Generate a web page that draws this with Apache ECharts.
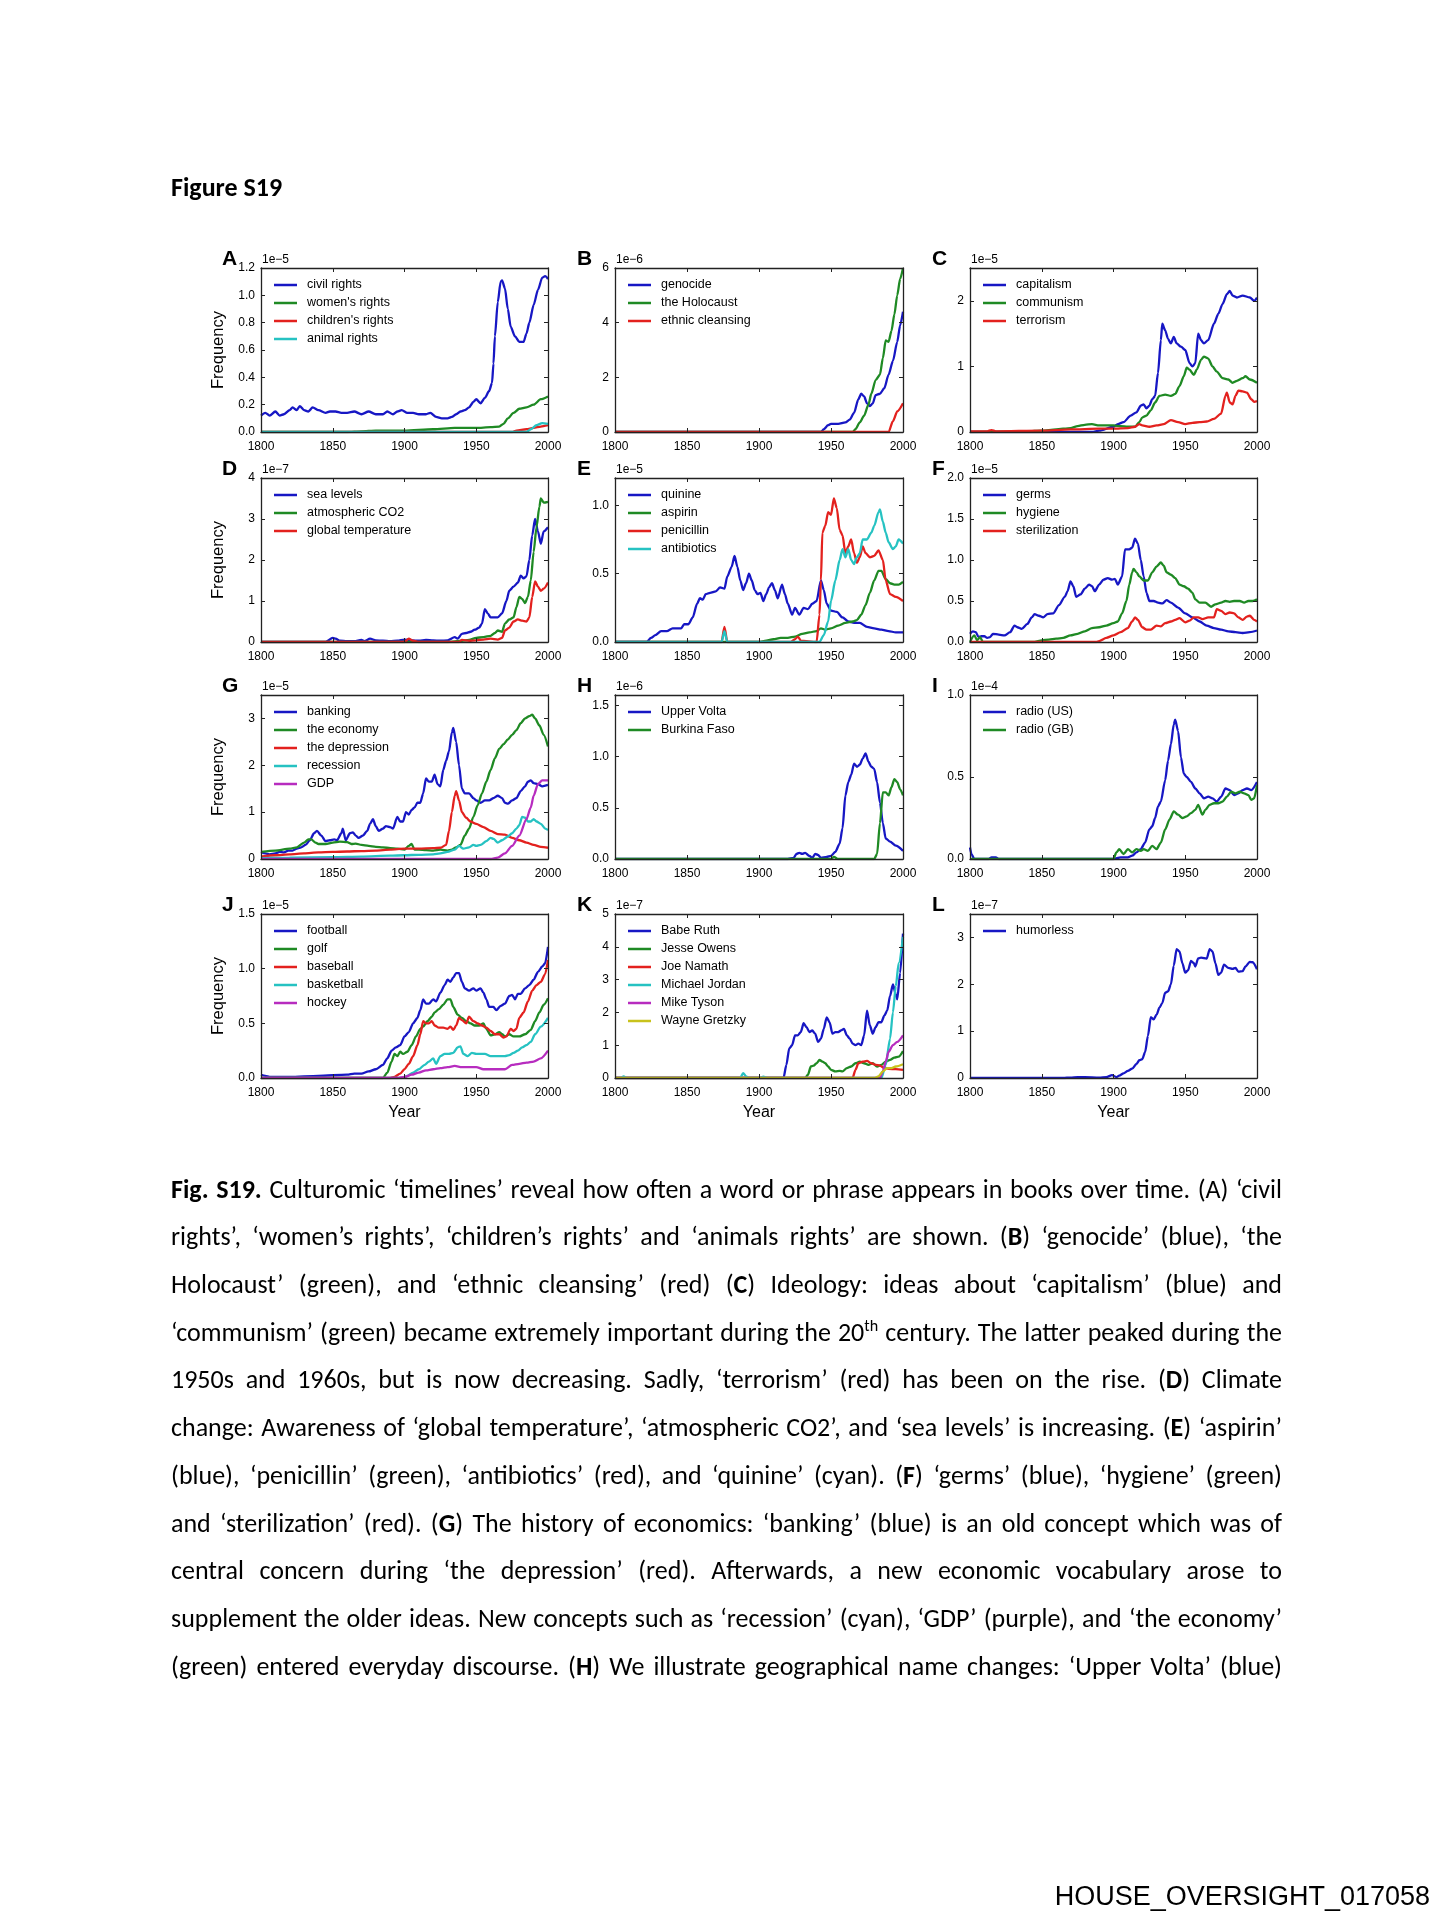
<!DOCTYPE html>
<html><head><meta charset="utf-8">
<script src="https://cdn.jsdelivr.net/npm/echarts@6/dist/echarts.min.js"></script>
<style>
html,body{margin:0;padding:0;background:#fff;}
#page{position:relative;width:1453px;height:1920px;overflow:hidden;background:#fff;}
#chart{position:absolute;left:0;top:0;width:1453px;height:1920px;}
.txt{position:absolute;font-family:Carlito,Lato,"Open Sans",sans-serif;color:#000;white-space:nowrap;}
.cap{left:171px;width:1111px;height:30px;line-height:30px;font-size:26px;text-align:justify;text-align-last:justify;}
#heading{left:171px;top:172px;font-size:24px;font-weight:bold;line-height:30px;}
#footer{right:23px;top:1879px;font-family:"Liberation Sans",Arial,sans-serif;font-size:27px;line-height:34px;}
sup{font-size:0.62em;line-height:0;vertical-align:0.6em;}
</style></head>
<body><div id="page"><div id="chart"></div>
<div id="heading" class="txt">Figure S19</div>
<div id="caption"></div>
<div id="footer" class="txt">HOUSE_OVERSIGHT_017058</div>
</div>
<script>
// ---------- DATA (values in units of the panel's axis multiplier) ----------
const xTicks = [1800, 1850, 1900, 1950, 2000];

// A (1e-5)
const A_civilRights = [[1800,0.12],[1803,0.14],[1806,0.12],[1810,0.15],[1813,0.12],[1816,0.13],[1820,0.16],[1822,0.18],[1825,0.16],[1827,0.19],[1830,0.16],[1833,0.15],[1836,0.18],[1840,0.16],[1845,0.14],[1848,0.15],[1852,0.15],[1856,0.14],[1860,0.14],[1865,0.15],[1870,0.13],[1875,0.15],[1880,0.13],[1885,0.13],[1888,0.15],[1892,0.13],[1895,0.15],[1898,0.16],[1902,0.14],[1906,0.14],[1910,0.13],[1915,0.13],[1918,0.14],[1922,0.11],[1926,0.10],[1930,0.10],[1933,0.11],[1936,0.13],[1939,0.15],[1942,0.16],[1945,0.18],[1948,0.22],[1950,0.24],[1953,0.21],[1956,0.25],[1959,0.30],[1961,0.36],[1962,0.50],[1963,0.70],[1965,0.95],[1967,1.10],[1968,1.11],[1970,1.05],[1972,0.90],[1974,0.77],[1977,0.70],[1980,0.66],[1983,0.66],[1985,0.72],[1987,0.80],[1990,0.93],[1993,1.04],[1996,1.13],[1998,1.14],[2000,1.12]];
const A_womensRights = [[1800,0],[1860,0],[1870,0.005],[1880,0.01],[1900,0.01],[1920,0.02],[1935,0.03],[1950,0.03],[1960,0.035],[1966,0.04],[1969,0.06],[1972,0.10],[1976,0.14],[1980,0.17],[1985,0.18],[1990,0.20],[1995,0.24],[2000,0.26]];
const A_childrensRights = [[1800,0],[1975,0],[1978,0.01],[1985,0.02],[1990,0.03],[1995,0.04],[2000,0.05]];
const A_animalRights = [[1800,0],[1985,0],[1988,0.02],[1992,0.05],[1996,0.065],[2000,0.06]];

// B (1e-6)
const B_genocide = [[1800,0],[1943,0],[1945,0.1],[1948,0.25],[1950,0.3],[1955,0.3],[1960,0.35],[1963,0.45],[1966,0.7],[1969,1.2],[1971,1.4],[1973,1.3],[1975,1.05],[1977,0.95],[1979,1.05],[1981,1.35],[1984,1.4],[1987,1.6],[1990,2.1],[1993,2.6],[1996,3.3],[1998,3.9],[2000,4.4]];
const B_holocaust = [[1800,0],[1965,0],[1967,0.1],[1970,0.35],[1973,0.6],[1976,1.0],[1978,1.4],[1981,1.9],[1984,2.1],[1986,2.7],[1988,3.35],[1990,3.3],[1992,3.7],[1994,4.3],[1996,5.0],[1998,5.6],[2000,6.0]];
const B_ethnicCleansing = [[1800,0],[1990,0],[1993,0.4],[1996,0.75],[2000,1.05]];

// C (1e-5)
const C_capitalism = [[1800,0],[1885,0],[1890,0.02],[1900,0.08],[1903,0.12],[1907,0.15],[1912,0.25],[1916,0.3],[1919,0.4],[1921,0.42],[1923,0.36],[1925,0.4],[1927,0.5],[1929,0.55],[1931,0.9],[1933,1.4],[1934,1.65],[1936,1.55],[1938,1.42],[1940,1.35],[1942,1.45],[1944,1.35],[1947,1.3],[1950,1.25],[1953,1.05],[1955,1.0],[1957,1.05],[1959,1.5],[1961,1.4],[1963,1.35],[1966,1.4],[1970,1.65],[1973,1.8],[1976,1.95],[1979,2.1],[1981,2.15],[1983,2.08],[1986,2.05],[1990,2.08],[1995,2.05],[1998,2.0],[2000,2.05]];
const C_communism = [[1800,0],[1840,0.01],[1850,0.02],[1860,0.04],[1870,0.06],[1875,0.09],[1880,0.11],[1885,0.12],[1890,0.1],[1895,0.1],[1900,0.1],[1905,0.09],[1910,0.08],[1915,0.08],[1918,0.15],[1920,0.22],[1923,0.25],[1926,0.33],[1929,0.45],[1932,0.55],[1936,0.57],[1940,0.55],[1943,0.58],[1946,0.7],[1949,0.85],[1951,0.98],[1953,0.95],[1956,0.87],[1958,0.95],[1961,1.1],[1963,1.15],[1966,1.12],[1969,1.0],[1972,0.92],[1976,0.82],[1980,0.8],[1983,0.75],[1986,0.78],[1990,0.82],[1992,0.85],[1995,0.8],[2000,0.75]];
const C_terrorism = [[1800,0.01],[1812,0.01],[1815,0.03],[1818,0.01],[1850,0.02],[1870,0.04],[1890,0.05],[1900,0.05],[1910,0.06],[1915,0.08],[1918,0.12],[1920,0.1],[1925,0.08],[1930,0.1],[1935,0.12],[1940,0.18],[1945,0.15],[1950,0.12],[1955,0.14],[1960,0.15],[1965,0.16],[1970,0.2],[1975,0.28],[1978,0.55],[1979,0.6],[1981,0.45],[1983,0.42],[1985,0.55],[1987,0.63],[1990,0.62],[1993,0.6],[1996,0.5],[1998,0.46],[2000,0.47]];

// D (1e-7)
const D_seaLevels = [[1800,0],[1845,0],[1850,0.1],[1852,0.08],[1855,0.03],[1860,0.02],[1865,0.02],[1870,0.05],[1872,0.02],[1876,0.08],[1880,0.04],[1885,0.03],[1890,0.02],[1895,0.03],[1900,0.06],[1905,0.04],[1910,0.03],[1915,0.05],[1920,0.04],[1925,0.03],[1930,0.04],[1935,0.12],[1937,0.08],[1940,0.2],[1943,0.22],[1946,0.25],[1949,0.3],[1952,0.35],[1954,0.45],[1956,0.8],[1958,0.7],[1960,0.6],[1965,0.6],[1968,0.7],[1971,1.0],[1973,1.25],[1976,1.35],[1979,1.45],[1981,1.62],[1983,1.55],[1985,1.6],[1987,2.0],[1989,2.6],[1991,3.0],[1993,2.7],[1995,2.4],[1997,2.7],[2000,2.8]];
const D_atmosphericCO2 = [[1800,0],[1930,0],[1940,0.03],[1945,0.05],[1950,0.1],[1955,0.12],[1960,0.15],[1963,0.22],[1965,0.28],[1968,0.25],[1970,0.45],[1973,0.55],[1976,0.6],[1978,0.85],[1980,1.1],[1982,1.05],[1984,0.95],[1986,1.1],[1988,1.5],[1990,2.2],[1992,2.8],[1994,3.3],[1995,3.5],[1997,3.4],[2000,3.42]];
const D_globalTemperature = [[1800,0],[1900,0],[1903,0.08],[1906,0.03],[1910,0],[1938,0],[1940,0.05],[1945,0.03],[1950,0.04],[1955,0.06],[1960,0.08],[1965,0.06],[1968,0.1],[1970,0.28],[1973,0.35],[1976,0.5],[1979,0.55],[1982,0.52],[1985,0.5],[1987,0.6],[1989,1.1],[1991,1.48],[1993,1.35],[1995,1.25],[1997,1.3],[2000,1.45]];

// E (1e-5)
const E_quinine = [[1800,0],[1822,0],[1825,0.03],[1828,0.05],[1832,0.08],[1836,0.08],[1840,0.1],[1843,0.1],[1846,0.1],[1848,0.13],[1851,0.13],[1854,0.18],[1857,0.28],[1859,0.32],[1861,0.31],[1863,0.35],[1866,0.36],[1870,0.37],[1873,0.4],[1876,0.39],[1878,0.48],[1881,0.55],[1883,0.63],[1885,0.55],[1887,0.45],[1889,0.38],[1891,0.43],[1893,0.5],[1895,0.45],[1897,0.38],[1899,0.35],[1901,0.36],[1903,0.3],[1905,0.35],[1907,0.4],[1909,0.43],[1911,0.38],[1913,0.32],[1916,0.42],[1918,0.35],[1920,0.28],[1923,0.2],[1925,0.25],[1928,0.2],[1931,0.25],[1934,0.24],[1937,0.28],[1940,0.3],[1943,0.45],[1945,0.38],[1947,0.28],[1950,0.23],[1954,0.22],[1958,0.18],[1962,0.15],[1966,0.14],[1970,0.14],[1975,0.11],[1980,0.1],[1985,0.09],[1990,0.08],[1995,0.07],[2000,0.07]];
const E_aspirin = [[1800,0],[1900,0],[1905,0.01],[1910,0.02],[1915,0.03],[1920,0.03],[1925,0.04],[1930,0.06],[1935,0.07],[1940,0.08],[1943,0.1],[1946,0.09],[1950,0.1],[1955,0.12],[1960,0.14],[1965,0.15],[1968,0.16],[1971,0.2],[1974,0.27],[1977,0.36],[1980,0.45],[1983,0.52],[1985,0.52],[1988,0.46],[1991,0.43],[1994,0.42],[1997,0.42],[2000,0.44]];
const E_penicillin = [[1800,0],[1874,0],[1876,0.11],[1878,0],[1922,0],[1925,0.02],[1927,0.04],[1929,0.01],[1940,0],[1942,0.2],[1943,0.45],[1944,0.8],[1946,0.85],[1948,0.95],[1950,0.93],[1952,1.05],[1954,0.98],[1956,0.82],[1958,0.78],[1960,0.65],[1962,0.7],[1964,0.75],[1966,0.65],[1968,0.58],[1970,0.62],[1972,0.7],[1974,0.65],[1977,0.62],[1980,0.63],[1983,0.67],[1986,0.6],[1988,0.45],[1991,0.35],[1995,0.33],[2000,0.3]];
const E_antibiotics = [[1800,0],[1874,0],[1876,0.08],[1878,0],[1942,0],[1945,0.05],[1948,0.15],[1950,0.3],[1953,0.45],[1956,0.6],[1958,0.68],[1960,0.62],[1962,0.68],[1964,0.6],[1966,0.57],[1968,0.62],[1970,0.65],[1972,0.75],[1975,0.75],[1978,0.8],[1980,0.85],[1983,0.95],[1984,0.97],[1986,0.88],[1988,0.8],[1990,0.73],[1993,0.68],[1995,0.7],[1997,0.75],[2000,0.72]];

// F (1e-5)
const F_germs = [[1800,0.1],[1802,0.13],[1804,0.12],[1806,0.06],[1808,0.07],[1810,0.07],[1812,0.05],[1814,0.06],[1816,0.1],[1820,0.09],[1824,0.08],[1828,0.12],[1831,0.2],[1833,0.18],[1836,0.16],[1840,0.22],[1843,0.3],[1845,0.34],[1848,0.32],[1851,0.3],[1854,0.34],[1858,0.35],[1862,0.45],[1866,0.55],[1868,0.62],[1870,0.74],[1872,0.68],[1874,0.55],[1877,0.58],[1880,0.65],[1883,0.7],[1885,0.68],[1887,0.62],[1890,0.7],[1893,0.76],[1896,0.78],[1899,0.76],[1901,0.77],[1903,0.7],[1906,0.8],[1908,1.13],[1911,1.13],[1913,1.15],[1915,1.26],[1917,1.2],[1919,1.0],[1921,0.8],[1923,0.6],[1925,0.5],[1928,0.5],[1931,0.48],[1934,0.47],[1937,0.51],[1940,0.48],[1945,0.42],[1950,0.35],[1955,0.3],[1960,0.25],[1965,0.2],[1970,0.17],[1975,0.15],[1980,0.13],[1985,0.12],[1990,0.11],[1995,0.12],[2000,0.14]];
const F_hygiene = [[1800,0],[1803,0.08],[1805,0.02],[1807,0.06],[1809,0],[1845,0],[1850,0.02],[1855,0.03],[1860,0.04],[1865,0.05],[1870,0.08],[1875,0.1],[1880,0.13],[1885,0.17],[1890,0.18],[1895,0.2],[1900,0.23],[1903,0.25],[1906,0.35],[1909,0.5],[1911,0.7],[1913,0.85],[1914,0.89],[1916,0.85],[1918,0.8],[1921,0.75],[1924,0.75],[1927,0.85],[1930,0.92],[1933,0.97],[1935,0.93],[1937,0.85],[1940,0.82],[1943,0.78],[1946,0.7],[1949,0.68],[1952,0.65],[1955,0.6],[1957,0.52],[1960,0.48],[1964,0.48],[1968,0.43],[1971,0.46],[1975,0.48],[1978,0.5],[1981,0.49],[1984,0.5],[1988,0.5],[1991,0.48],[1994,0.5],[1997,0.5],[2000,0.52]];
const F_sterilization = [[1800,0],[1888,0],[1890,0.01],[1895,0.05],[1900,0.08],[1905,0.12],[1910,0.17],[1913,0.25],[1915,0.3],[1917,0.27],[1920,0.18],[1923,0.15],[1926,0.15],[1930,0.2],[1933,0.19],[1936,0.23],[1940,0.25],[1943,0.27],[1946,0.29],[1950,0.24],[1953,0.26],[1956,0.3],[1959,0.3],[1962,0.28],[1966,0.3],[1970,0.3],[1972,0.4],[1975,0.38],[1978,0.34],[1981,0.36],[1984,0.35],[1987,0.3],[1990,0.27],[1993,0.31],[1995,0.32],[1998,0.27],[2000,0.25]];

// G (1e-5)
const G_banking = [[1800,0.15],[1803,0.12],[1806,0.1],[1810,0.12],[1813,0.15],[1816,0.14],[1819,0.18],[1822,0.18],[1825,0.22],[1828,0.25],[1831,0.3],[1834,0.4],[1837,0.55],[1839,0.6],[1842,0.5],[1845,0.38],[1848,0.4],[1851,0.42],[1853,0.4],[1856,0.55],[1857,0.65],[1859,0.4],[1862,0.55],[1864,0.57],[1866,0.5],[1868,0.45],[1871,0.5],[1874,0.6],[1876,0.75],[1878,0.85],[1880,0.7],[1882,0.6],[1885,0.65],[1887,0.7],[1890,0.68],[1892,0.65],[1895,0.9],[1897,0.8],[1899,0.8],[1901,1.0],[1903,0.95],[1905,1.05],[1907,1.1],[1909,1.2],[1911,1.2],[1913,1.4],[1915,1.72],[1917,1.65],[1919,1.65],[1921,1.8],[1923,1.6],[1925,1.55],[1927,1.9],[1929,2.1],[1931,2.3],[1933,2.7],[1934,2.8],[1936,2.5],[1938,2.0],[1940,1.5],[1942,1.4],[1945,1.4],[1948,1.3],[1950,1.25],[1953,1.2],[1956,1.25],[1959,1.25],[1962,1.3],[1965,1.35],[1968,1.3],[1970,1.2],[1972,1.18],[1975,1.25],[1978,1.3],[1981,1.45],[1984,1.55],[1986,1.65],[1988,1.68],[1990,1.62],[1993,1.6],[1996,1.55],[2000,1.58]];
const G_theEconomy = [[1800,0.15],[1810,0.18],[1820,0.22],[1825,0.25],[1830,0.35],[1833,0.42],[1835,0.42],[1838,0.35],[1840,0.32],[1845,0.32],[1850,0.35],[1855,0.37],[1860,0.36],[1863,0.32],[1866,0.33],[1870,0.3],[1875,0.28],[1880,0.26],[1885,0.25],[1890,0.23],[1895,0.22],[1900,0.2],[1903,0.28],[1905,0.32],[1907,0.2],[1910,0.2],[1915,0.19],[1920,0.18],[1925,0.2],[1930,0.18],[1933,0.2],[1936,0.25],[1939,0.3],[1942,0.5],[1945,0.65],[1948,0.9],[1951,1.15],[1954,1.4],[1957,1.65],[1960,1.9],[1963,2.15],[1966,2.35],[1969,2.45],[1972,2.55],[1975,2.65],[1978,2.75],[1981,2.9],[1984,3.0],[1987,3.05],[1989,3.08],[1991,3.0],[1994,2.85],[1997,2.65],[2000,2.4]];
const G_theDepression = [[1800,0.05],[1810,0.08],[1820,0.1],[1830,0.12],[1840,0.14],[1850,0.15],[1860,0.16],[1870,0.17],[1880,0.18],[1890,0.2],[1900,0.22],[1910,0.22],[1920,0.23],[1925,0.24],[1929,0.3],[1931,0.6],[1933,1.0],[1935,1.35],[1936,1.45],[1938,1.25],[1940,1.0],[1943,0.88],[1946,0.8],[1950,0.75],[1955,0.68],[1960,0.6],[1965,0.53],[1970,0.52],[1975,0.45],[1980,0.4],[1985,0.35],[1990,0.3],[1995,0.26],[2000,0.24]];
const G_recession = [[1800,0.02],[1820,0.03],[1850,0.04],[1870,0.05],[1890,0.07],[1900,0.08],[1910,0.09],[1920,0.1],[1925,0.12],[1930,0.15],[1935,0.2],[1938,0.28],[1941,0.22],[1945,0.25],[1948,0.3],[1950,0.28],[1953,0.3],[1957,0.38],[1960,0.45],[1962,0.43],[1965,0.35],[1968,0.4],[1972,0.48],[1975,0.55],[1978,0.65],[1980,0.72],[1982,0.9],[1984,0.88],[1986,0.8],[1988,0.8],[1990,0.85],[1992,0.8],[1995,0.75],[1998,0.65],[2000,0.62]];
const G_GDP = [[1800,0],[1960,0],[1965,0.03],[1970,0.12],[1975,0.28],[1980,0.5],[1985,0.85],[1988,1.1],[1990,1.35],[1993,1.6],[1996,1.68],[2000,1.68]];

// H (1e-6)
const H_upperVolta = [[1800,0],[1920,0],[1924,0.01],[1926,0.05],[1928,0.06],[1930,0.05],[1932,0.06],[1935,0.03],[1937,0.01],[1939,0.05],[1941,0.04],[1943,0.01],[1947,0.02],[1950,0.03],[1953,0.07],[1956,0.15],[1958,0.3],[1960,0.62],[1962,0.75],[1964,0.82],[1966,0.93],[1968,0.9],[1970,0.92],[1972,0.98],[1974,1.03],[1976,0.95],[1978,0.9],[1980,0.88],[1982,0.75],[1984,0.55],[1986,0.35],[1988,0.2],[1991,0.17],[1995,0.13],[2000,0.08]];
const H_burkinaFaso = [[1800,0],[1950,0],[1952,0.02],[1955,0],[1980,0],[1982,0.05],[1984,0.35],[1986,0.65],[1988,0.65],[1990,0.62],[1992,0.7],[1994,0.78],[1996,0.75],[1998,0.68],[2000,0.62]];

// I (1e-4)
const I_radioUS = [[1800,0.07],[1801,0.03],[1803,0],[1813,0],[1815,0.01],[1818,0.01],[1820,0],[1900,0],[1905,0.01],[1910,0.01],[1913,0.02],[1916,0.04],[1919,0.06],[1922,0.1],[1925,0.18],[1927,0.2],[1929,0.25],[1931,0.32],[1933,0.35],[1936,0.48],[1938,0.6],[1940,0.7],[1942,0.82],[1943,0.85],[1945,0.78],[1947,0.62],[1949,0.52],[1951,0.5],[1954,0.47],[1957,0.43],[1960,0.4],[1963,0.37],[1966,0.38],[1969,0.37],[1972,0.35],[1975,0.38],[1978,0.43],[1981,0.42],[1984,0.39],[1987,0.4],[1990,0.42],[1993,0.43],[1996,0.42],[2000,0.47]];
const I_radioGB = [[1800,0],[1900,0],[1902,0.04],[1904,0.06],[1907,0.03],[1910,0.06],[1913,0.04],[1916,0.06],[1919,0.05],[1921,0.06],[1924,0.05],[1927,0.08],[1930,0.06],[1933,0.1],[1936,0.18],[1939,0.24],[1942,0.29],[1945,0.27],[1948,0.25],[1951,0.26],[1954,0.28],[1957,0.3],[1959,0.33],[1962,0.27],[1964,0.3],[1967,0.33],[1970,0.34],[1973,0.34],[1976,0.35],[1979,0.38],[1982,0.41],[1985,0.4],[1988,0.41],[1991,0.4],[1994,0.39],[1996,0.36],[1998,0.37],[2000,0.45]];

// J (1e-5)
const J_football = [[1800,0.03],[1803,0.02],[1806,0.01],[1820,0.01],[1840,0.02],[1860,0.03],[1865,0.04],[1870,0.04],[1875,0.06],[1880,0.08],[1885,0.12],[1888,0.18],[1891,0.25],[1894,0.28],[1897,0.3],[1900,0.38],[1903,0.42],[1906,0.5],[1909,0.55],[1911,0.62],[1913,0.72],[1915,0.68],[1917,0.68],[1920,0.72],[1922,0.7],[1925,0.78],[1928,0.85],[1930,0.9],[1932,0.88],[1934,0.92],[1936,0.96],[1938,0.96],[1940,0.88],[1942,0.82],[1945,0.8],[1948,0.82],[1950,0.8],[1953,0.82],[1955,0.78],[1957,0.72],[1959,0.65],[1962,0.65],[1964,0.62],[1967,0.66],[1970,0.68],[1973,0.75],[1975,0.76],[1977,0.72],[1979,0.77],[1981,0.77],[1984,0.82],[1987,0.85],[1990,0.9],[1993,0.97],[1996,1.02],[1998,1.05],[2000,1.2]];
const J_golf = [[1800,0],[1885,0],[1888,0.05],[1891,0.15],[1893,0.22],[1895,0.2],[1897,0.24],[1899,0.22],[1902,0.24],[1905,0.3],[1908,0.38],[1911,0.45],[1913,0.47],[1916,0.52],[1919,0.56],[1921,0.6],[1924,0.63],[1927,0.67],[1930,0.72],[1932,0.72],[1934,0.65],[1937,0.58],[1940,0.55],[1943,0.52],[1946,0.5],[1949,0.48],[1952,0.48],[1955,0.5],[1957,0.45],[1960,0.39],[1963,0.4],[1966,0.42],[1968,0.4],[1970,0.38],[1973,0.4],[1976,0.38],[1980,0.38],[1984,0.4],[1988,0.44],[1991,0.52],[1994,0.6],[1997,0.67],[2000,0.73]];
const J_baseball = [[1800,0],[1890,0],[1893,0.01],[1897,0.04],[1900,0.08],[1903,0.13],[1906,0.2],[1909,0.3],[1911,0.4],[1913,0.52],[1915,0.5],[1917,0.5],[1919,0.52],[1921,0.48],[1924,0.46],[1927,0.46],[1930,0.45],[1932,0.47],[1934,0.44],[1936,0.48],[1938,0.55],[1940,0.53],[1943,0.5],[1945,0.56],[1948,0.52],[1951,0.5],[1954,0.48],[1957,0.46],[1960,0.43],[1963,0.4],[1966,0.4],[1969,0.37],[1971,0.38],[1974,0.45],[1976,0.43],[1978,0.45],[1980,0.55],[1983,0.6],[1986,0.7],[1989,0.8],[1992,0.85],[1995,0.88],[1998,0.95],[2000,1.08]];
const J_basketball = [[1800,0],[1898,0],[1902,0.02],[1906,0.05],[1910,0.08],[1914,0.12],[1917,0.15],[1920,0.18],[1922,0.13],[1925,0.2],[1928,0.22],[1931,0.22],[1934,0.23],[1937,0.28],[1939,0.29],[1941,0.22],[1944,0.2],[1947,0.23],[1950,0.22],[1953,0.22],[1956,0.22],[1960,0.2],[1965,0.2],[1970,0.2],[1973,0.21],[1976,0.23],[1979,0.25],[1982,0.28],[1985,0.3],[1988,0.33],[1991,0.4],[1995,0.47],[2000,0.55]];
const J_hockey = [[1800,0],[1895,0],[1900,0.01],[1905,0.03],[1910,0.05],[1915,0.07],[1920,0.08],[1925,0.09],[1930,0.1],[1935,0.11],[1940,0.1],[1945,0.1],[1950,0.1],[1955,0.08],[1960,0.08],[1965,0.08],[1970,0.08],[1975,0.12],[1980,0.13],[1985,0.14],[1990,0.15],[1995,0.18],[2000,0.25]];

// K (1e-7)
const K_babeRuth = [[1800,0],[1917,0],[1919,0.4],[1921,0.9],[1923,1.0],[1925,1.3],[1927,1.3],[1929,1.4],[1931,1.67],[1933,1.55],[1935,1.4],[1937,1.45],[1939,1.35],[1941,1.1],[1943,1.2],[1945,1.5],[1947,1.85],[1949,1.7],[1951,1.35],[1953,1.4],[1955,1.4],[1957,1.45],[1959,1.5],[1961,1.3],[1963,1.2],[1965,1.05],[1967,1.0],[1969,1.05],[1971,1.0],[1973,1.3],[1975,2.05],[1977,1.6],[1979,1.35],[1981,1.55],[1983,1.7],[1985,1.7],[1987,1.9],[1989,2.05],[1991,2.5],[1993,2.85],[1995,2.55],[1996,2.4],[1998,3.2],[2000,4.4]];
const K_jesseOwens = [[1800,0],[1932,0],[1934,0.1],[1936,0.35],[1938,0.38],[1940,0.45],[1942,0.55],[1944,0.5],[1946,0.45],[1948,0.35],[1950,0.25],[1953,0.2],[1956,0.22],[1958,0.2],[1961,0.3],[1964,0.35],[1967,0.45],[1970,0.5],[1973,0.45],[1976,0.4],[1979,0.45],[1982,0.35],[1985,0.4],[1988,0.5],[1991,0.55],[1994,0.62],[1997,0.65],[2000,0.82]];
const K_joeNamath = [[1800,0],[1965,0],[1967,0.25],[1969,0.45],[1972,0.5],[1975,0.52],[1978,0.45],[1981,0.4],[1984,0.38],[1987,0.3],[1990,0.28],[1995,0.27],[2000,0.25]];
const K_michaelJordan = [[1800,0],[1804,0],[1806,0.05],[1808,0],[1887,0],[1889,0.15],[1891,0.05],[1893,0],[1901,0],[1903,0.04],[1906,0],[1985,0],[1988,0.4],[1991,1.2],[1993,2.0],[1995,2.8],[1997,3.5],[2000,4.3]];
const K_mikeTyson = [[1800,0],[1984,0],[1986,0.2],[1988,0.5],[1990,0.8],[1993,1.0],[1996,1.1],[2000,1.3]];
const K_wayneGretzky = [[1800,0],[1980,0],[1983,0.05],[1986,0.2],[1989,0.3],[1992,0.3],[1995,0.35],[2000,0.42]];

// L (1e-7)
const L_humorless = [[1800,0],[1865,0],[1870,0.01],[1875,0.02],[1880,0.02],[1890,0.01],[1895,0.02],[1899,0.06],[1902,0.02],[1904,0.05],[1907,0.1],[1910,0.15],[1913,0.2],[1916,0.3],[1918,0.38],[1920,0.4],[1922,0.55],[1924,0.9],[1926,1.3],[1928,1.25],[1930,1.35],[1932,1.5],[1934,1.6],[1936,1.82],[1938,1.85],[1940,2.0],[1942,2.4],[1944,2.75],[1946,2.7],[1948,2.45],[1950,2.25],[1952,2.3],[1954,2.5],[1956,2.45],[1957,2.38],[1959,2.55],[1961,2.57],[1965,2.55],[1967,2.75],[1969,2.7],[1971,2.45],[1973,2.2],[1975,2.25],[1977,2.42],[1980,2.35],[1983,2.33],[1985,2.35],[1987,2.27],[1990,2.28],[1992,2.38],[1995,2.48],[1997,2.47],[2000,2.32]];

// ---------- PANEL CONFIG ----------
const COL = {b:'#1717c4', g:'#1f8a24', r:'#e3211e', c:'#26c2c2', m:'#b72cbf', y:'#c8c21c'};
const panels = [
 {id:'A', exp:'1e\u22125', ymax:1.2, step:0.2, dec:1, s:[['civil rights',A_civilRights,'b'],["women's rights",A_womensRights,'g'],["children's rights",A_childrensRights,'r'],['animal rights',A_animalRights,'c']]},
 {id:'B', exp:'1e\u22126', ymax:6, step:2, dec:0, s:[['genocide',B_genocide,'b'],['the Holocaust',B_holocaust,'g'],['ethnic cleansing',B_ethnicCleansing,'r']]},
 {id:'C', exp:'1e\u22125', ymax:2.5, step:1, dec:0, s:[['capitalism',C_capitalism,'b'],['communism',C_communism,'g'],['terrorism',C_terrorism,'r']]},
 {id:'D', exp:'1e\u22127', ymax:4, step:1, dec:0, s:[['sea levels',D_seaLevels,'b'],['atmospheric CO2',D_atmosphericCO2,'g'],['global temperature',D_globalTemperature,'r']]},
 {id:'E', exp:'1e\u22125', ymax:1.2, step:0.5, dec:1, s:[['quinine',E_quinine,'b'],['aspirin',E_aspirin,'g'],['penicillin',E_penicillin,'r'],['antibiotics',E_antibiotics,'c']]},
 {id:'F', exp:'1e\u22125', ymax:2.0, step:0.5, dec:1, s:[['germs',F_germs,'b'],['hygiene',F_hygiene,'g'],['sterilization',F_sterilization,'r']]},
 {id:'G', exp:'1e\u22125', ymax:3.5, step:1, dec:0, s:[['banking',G_banking,'b'],['the economy',G_theEconomy,'g'],['the depression',G_theDepression,'r'],['recession',G_recession,'c'],['GDP',G_GDP,'m']]},
 {id:'H', exp:'1e\u22126', ymax:1.6, step:0.5, dec:1, s:[['Upper Volta',H_upperVolta,'b'],['Burkina Faso',H_burkinaFaso,'g']]},
 {id:'I', exp:'1e\u22124', ymax:1.0, step:0.5, dec:1, s:[['radio (US)',I_radioUS,'b'],['radio (GB)',I_radioGB,'g']]},
 {id:'J', exp:'1e\u22125', ymax:1.5, step:0.5, dec:1, s:[['football',J_football,'b'],['golf',J_golf,'g'],['baseball',J_baseball,'r'],['basketball',J_basketball,'c'],['hockey',J_hockey,'m']]},
 {id:'K', exp:'1e\u22127', ymax:5, step:1, dec:0, s:[['Babe Ruth',K_babeRuth,'b'],['Jesse Owens',K_jesseOwens,'g'],['Joe Namath',K_joeNamath,'r'],['Michael Jordan',K_michaelJordan,'c'],['Mike Tyson',K_mikeTyson,'m'],['Wayne Gretzky',K_wayneGretzky,'y']]},
 {id:'L', exp:'1e\u22127', ymax:3.5, step:1, dec:0, s:[['humorless',L_humorless,'b']]}
];

// ---------- LAYOUT ----------
const colLeft = [261, 615, 970], colW = [287, 288, 287];
const rowTop = [268, 478, 695, 914], rowH = 164;
const FONT = '"Liberation Sans", Arial, Helvetica, sans-serif';

const option = {animation:false, backgroundColor:'transparent', grid:[], xAxis:[], yAxis:[], series:[], legend:[], graphic:[]};
panels.forEach((p, i) => {
  const col = i % 3, row = Math.floor(i / 3);
  const L = colLeft[col], T = rowTop[row], W = colW[col];
  option.grid.push({left:L, top:T, width:W, height:rowH, show:false});
  const tickCommon = {show:true, inside:true, length:4, lineStyle:{color:'#222', width:1}};
  const lineCommon = {show:true, onZero:false, lineStyle:{color:'#222', width:1.3}};
  const isMult = v => Math.abs(v/p.step - Math.round(v/p.step)) < 1e-6;
  option.xAxis.push({gridIndex:i, type:'value', min:1800, max:2000, interval:50, position:'bottom', z:5,
    axisLine:lineCommon, axisTick:tickCommon, splitLine:{show:false},
    axisLabel:{fontFamily:FONT, fontSize:12, color:'#000', margin:9, formatter:v => xTicks.includes(v) ? String(v) : ''},
    name: row === 3 ? 'Year' : '', nameLocation:'middle', nameGap:27, nameTextStyle:{fontFamily:FONT, fontSize:16, color:'#000'}});
  option.xAxis.push({gridIndex:i, type:'value', min:1800, max:2000, interval:50, position:'top', z:5,
    axisLine:lineCommon, axisTick:tickCommon, splitLine:{show:false}, axisLabel:{show:false}});
  option.yAxis.push({gridIndex:i, type:'value', min:0, max:p.ymax, interval:p.step, position:'left', z:5,
    axisLine:lineCommon, axisTick:tickCommon, splitLine:{show:false},
    axisLabel:{fontFamily:FONT, fontSize:12, color:'#000', margin:6, formatter:v => isMult(v) ? v.toFixed(p.dec) : ''},
    name: col === 0 ? 'Frequency' : '', nameLocation:'middle', nameGap:34, nameTextStyle:{fontFamily:FONT, fontSize:16.5, color:'#000'}});
  option.yAxis.push({gridIndex:i, type:'value', min:0, max:p.ymax, interval:p.step, position:'right', z:5,
    axisLine:lineCommon, axisTick:tickCommon, splitLine:{show:false}, axisLabel:{show:false}});
  p.s.forEach(([name, data, c]) => {
    option.series.push({type:'line', name, data, xAxisIndex:2*i, yAxisIndex:2*i, showSymbol:false, symbol:'none',
      smooth:0.25, smoothMonotone:'x', color:COL[c], itemStyle:{color:COL[c]}, lineStyle:{color:COL[c], width:2.3}, clip:true});
  });
  option.legend.push({data:p.s.map(s => s[0]), orient:'vertical', left:L+13, top:T+10, padding:0, itemGap:4,
    itemWidth:23, itemHeight:2.5, icon:'rect', selectedMode:false,
    textStyle:{fontFamily:FONT, fontSize:12.5, color:'#000', lineHeight:14, padding:[0,0,0,5]}});
  option.graphic.push({type:'text', left:L - 39 + (col===0?0:1), top:T - 19, style:{text:p.id, font:'bold 21px ' + FONT, fill:'#000'}});
  option.graphic.push({type:'text', left:L + 1, top:T - 14, style:{text:p.exp, font:'12px ' + FONT, fill:'#000'}});
});
const chart = echarts.init(document.getElementById('chart'), null, {renderer:'canvas'});
chart.setOption(option);

// ---------- CAPTION ----------
const captionLines = [
 '<b>Fig. S19.</b> Culturomic ‘timelines’ reveal how often a word or phrase appears in books over time. (A) ‘civil',
 'rights’, ‘women’s rights’, ‘children’s rights’ and ‘animals rights’ are shown. (<b>B</b>) ‘genocide’ (blue), ‘the',
 'Holocaust’ (green), and ‘ethnic cleansing’ (red) (<b>C</b>) Ideology: ideas about ‘capitalism’ (blue) and',
 '‘communism’ (green) became extremely important during the 20<sup>th</sup> century. The latter peaked during the',
 '1950s and 1960s, but is now decreasing. Sadly, ‘terrorism’ (red) has been on the rise. (<b>D</b>) Climate',
 'change: Awareness of ‘global temperature’, ‘atmospheric CO2’, and ‘sea levels’ is increasing. (<b>E</b>) ‘aspirin’',
 '(blue), ‘penicillin’ (green), ‘antibiotics’ (red), and ‘quinine’ (cyan). (<b>F</b>) ‘germs’ (blue), ‘hygiene’ (green)',
 'and ‘sterilization’ (red). (<b>G</b>) The history of economics: ‘banking’ (blue) is an old concept which was of',
 'central concern during ‘the depression’ (red). Afterwards, a new economic vocabulary arose to',
 'supplement the older ideas. New concepts such as ‘recession’ (cyan), ‘GDP’ (purple), and ‘the economy’',
 '(green) entered everyday discourse. (<b>H</b>) We illustrate geographical name changes: ‘Upper Volta’ (blue)'
];
const capEl = document.getElementById('caption');
const lineY0 = 1188.5, lineStep = 47.74;
captionLines.forEach((h, k) => {
  const d = document.createElement('div');
  d.className = 'txt cap';
  d.style.top = (lineY0 + k * lineStep - 15) + 'px';
  d.innerHTML = h;
  capEl.appendChild(d);
});
// shrink font if any line would overflow its justified width
(function fit(){
  const divs = capEl.querySelectorAll('.cap');
  let fs = 26;
  for (let t = 0; t < 30; t++) {
    let over = false;
    divs.forEach(d => { d.style.fontSize = fs + 'px'; if (d.scrollWidth > d.clientWidth + 1) over = true; });
    if (!over) break;
    fs -= 0.25;
  }
  document.getElementById('heading').style.fontSize = Math.max(fs, 23) + 'px';
})();
</script>
</body></html>
